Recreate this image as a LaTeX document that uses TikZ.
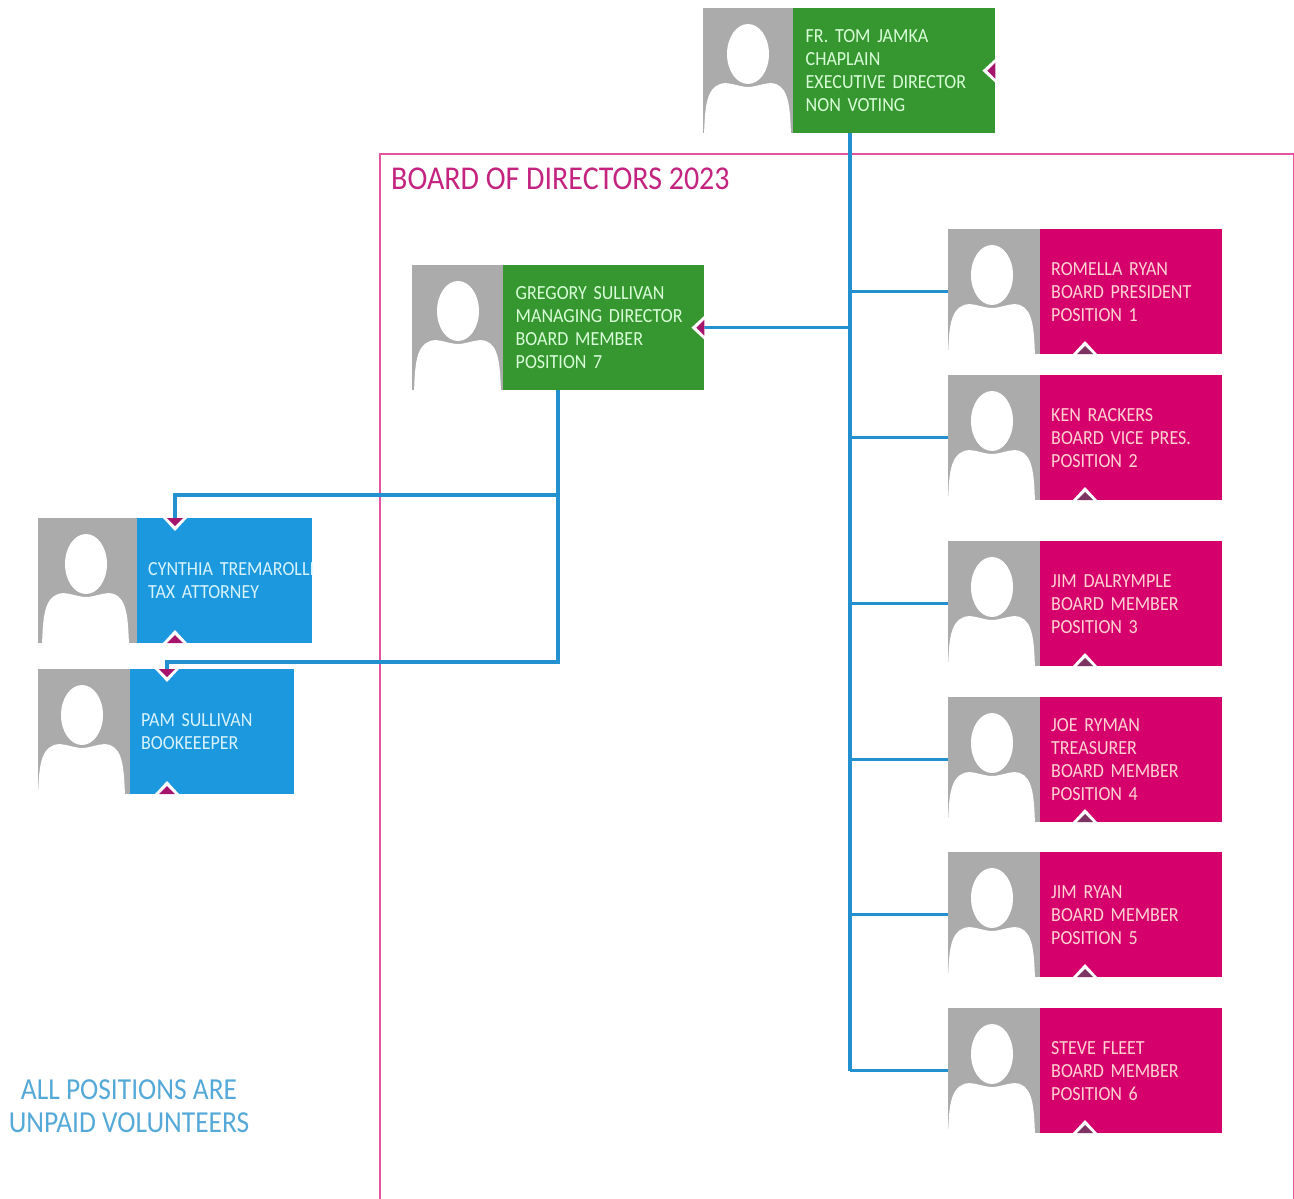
\documentclass[tikz,border=0pt]{standalone}
\usepackage{fontspec}
\setmainfont[FakeStretch=0.9]{Carlito}
\definecolor{cardgreen}{HTML}{36962F}
\definecolor{cardpink}{HTML}{D6006C}
\definecolor{cardblue}{HTML}{1C98DE}
\definecolor{photogrey}{HTML}{ABABAB}
\definecolor{linkblue}{HTML}{2390CF}
\definecolor{framepink}{HTML}{E455A0}
\definecolor{titlepink}{HTML}{C4237F}
\definecolor{noteblue}{HTML}{55A9D8}
\definecolor{notchred}{HTML}{A5156B}
\definecolor{notchdark}{HTML}{7D3463}
\tikzset{
	photobox/.style={fill=photogrey, shape=rectangle, anchor=north west, minimum height=125pt, inner sep=0pt},
	cardbox/.style={shape=rectangle, anchor=north west, minimum height=125pt, inner xsep=11pt, inner ysep=0pt, align=left, font=\fontsize{20}{23}\selectfont},
	greenbox/.style={cardbox, fill=cardgreen, text=green!15!white, inner xsep=12.5pt},
	pinkbox/.style={cardbox, fill=cardpink, text=pink!70!white, minimum width=182pt, text width=160pt},
	bluebox/.style={cardbox, fill=cardblue, text=cyan!15!white},
	link/.style={draw=linkblue, line width=3.5pt},
	person/.pic={
		\fill[white] (-44,2) .. controls (-43,-25) and (-42,-44) .. (-28,-49) .. controls (-20,-52) and (-9,-46) .. (0,-46) .. controls (9,-46) and (20,-52) .. (28,-49) .. controls (41,-44) and (42,-25) .. (43,2) -- cycle;
		\fill[white] (0,-79) ellipse (21 and 30);
	},
	notch/.pic={
		\fill[white] (-12,0) -- (0,13) -- (12,0) -- cycle;
		\fill[pic actions] (-8,0) -- (0,8) -- (8,0) -- cycle;
	},
}
\begin{document}
\begin{tikzpicture}[x=1pt, y=-1pt]
	\useasboundingbox (0,0) rectangle (1294,1199);

	\node[draw=framepink, line width=1.5pt, shape=rectangle, anchor=north west, minimum width=914pt, minimum height=1050pt, inner sep=0pt] (f_board) at (379,153) {};
	\node[text=titlepink, anchor=west, inner sep=0pt, font=\fontsize{33.3}{36}\selectfont] (t_board) at (391,179) {BOARD OF DIRECTORS 2023};
	\node[text=noteblue, align=center, inner sep=0pt, font=\fontsize{30.5}{33}\selectfont] (t_note) at (129,1106) {ALL POSITIONS ARE\\UNPAID VOLUNTEERS};

	\node[photobox, minimum width=91pt] (p_tom) at (703,8) {};
	\node[greenbox, minimum width=202pt, text width=177pt] (m_tom) at (793,8) {FR. TOM JAMKA\\CHAPLAIN\\EXECUTIVE DIRECTOR\\NON VOTING};

	\node[photobox, minimum width=91pt] (p_gregory) at (412,265) {};
	\node[greenbox, minimum width=201pt, text width=176pt] (m_gregory) at (503,265) {GREGORY SULLIVAN\\MANAGING DIRECTOR\\BOARD MEMBER\\POSITION 7};

	\node[photobox, minimum width=92pt] (p_romella) at (948,229) {};
	\node[pinkbox] (m_romella) at (1040,229) {ROMELLA RYAN\\BOARD PRESIDENT\\POSITION 1};
	\node[photobox, minimum width=92pt] (p_ken) at (948,375) {};
	\node[pinkbox] (m_ken) at (1040,375) {KEN RACKERS\\BOARD VICE PRES.\\POSITION 2};
	\node[photobox, minimum width=92pt] (p_dalrymple) at (948,541) {};
	\node[pinkbox] (m_dalrymple) at (1040,541) {JIM DALRYMPLE\\BOARD MEMBER\\POSITION 3};
	\node[photobox, minimum width=92pt] (p_joe) at (948,697) {};
	\node[pinkbox] (m_joe) at (1040,697) {JOE RYMAN\\TREASURER\\BOARD MEMBER\\POSITION 4};
	\node[photobox, minimum width=92pt] (p_ryan) at (948,852) {};
	\node[pinkbox] (m_ryan) at (1040,852) {JIM RYAN\\BOARD MEMBER\\POSITION 5};
	\node[photobox, minimum width=92pt] (p_steve) at (948,1008) {};
	\node[pinkbox] (m_steve) at (1040,1008) {STEVE FLEET\\BOARD MEMBER\\POSITION 6};

	\node[photobox, minimum width=99pt] (p_cynthia) at (38,518) {};
	\node[bluebox, minimum width=175pt, text width=153pt] (m_cynthia) at (137,518) {\rlap{CYNTHIA TREMAROLLI}\\TAX ATTORNEY};
	\node[photobox, minimum width=92pt] (p_pam) at (38,669) {};
	\node[bluebox, minimum width=164pt, text width=142pt] (m_pam) at (130,669) {PAM SULLIVAN\\BOOKEEEPER};

	\pic at (748,133) {person};
	\pic at (458,390) {person};
	\pic at (992,354) {person};
	\pic at (992,500) {person};
	\pic at (992,666) {person};
	\pic at (992,822) {person};
	\pic at (992,977) {person};
	\pic at (992,1133) {person};
	\pic at (86,643) {person};
	\pic at (82,794) {person};

	\coordinate (trunk_top) at (850,133);
	\coordinate (trunk_end) at (850,1071);
	\coordinate (drop_top) at (558,390);
	\coordinate (drop_cynthia) at (558,495);
	\coordinate (drop_pam) at (558,662);
	\coordinate (in_cynthia) at (175,518);
	\coordinate (in_pam) at (167,669);

	\draw[link] (trunk_top) -- (trunk_end);
	\draw[link] (trunk_top |- p_romella.west) -- (p_romella.west);
	\draw[link] (trunk_top |- p_ken.west) -- (p_ken.west);
	\draw[link] (trunk_top |- p_dalrymple.west) -- (p_dalrymple.west);
	\draw[link] (trunk_top |- p_joe.west) -- (p_joe.west);
	\draw[link] (trunk_top |- p_ryan.west) -- (p_ryan.west);
	\draw[link] (trunk_top |- p_steve.west) -- (p_steve.west);
	\draw[link] (trunk_top |- m_gregory.east) -- (m_gregory.east);
	\draw[link] (drop_top) -- (drop_pam) -| (in_pam);
	\draw[link] (drop_cynthia) -| (in_cynthia);

	\pic[fill=notchred, rotate=-90] at (m_tom.east) {notch};
	\pic[fill=notchred, rotate=-90] at (m_gregory.east) {notch};
	\pic[fill=notchdark, rotate=180] at (1085,354) {notch};
	\pic[fill=notchdark, rotate=180] at (1085,500) {notch};
	\pic[fill=notchdark, rotate=180] at (1085,666) {notch};
	\pic[fill=notchdark, rotate=180] at (1085,822) {notch};
	\pic[fill=notchdark, rotate=180] at (1085,977) {notch};
	\pic[fill=notchdark, rotate=180] at (1085,1133) {notch};
	\pic[fill=notchred] at (in_cynthia) {notch};
	\pic[fill=notchred, rotate=180] at (175,643) {notch};
	\pic[fill=notchred] at (in_pam) {notch};
	\pic[fill=notchred, rotate=180] at (167,794) {notch};
\end{tikzpicture}
\end{document}
